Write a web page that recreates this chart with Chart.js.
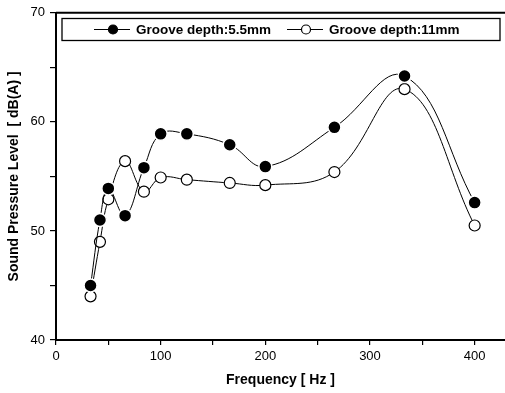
<!DOCTYPE html>
<html>
<head>
<meta charset="utf-8">
<script src="https://cdn.jsdelivr.net/npm/chart.js@4/dist/chart.umd.min.js"></script>
<style>
  html, body { margin: 0; padding: 0; background: #fff; }
  #wrap { position: relative; width: 505px; height: 393px; }
</style>
</head>
<body>
<div id="wrap"><canvas id="grafica" width="505" height="393"></canvas></div>
<script>
// frecuencias medidas (Hz)
const frecuencias = [33, 42, 50, 66, 84, 100, 125, 166, 200, 266, 333, 400];
// nivel de presion sonora, ranura 5.5mm
const nivel55 = [45.0, 51.0, 53.9, 51.4, 55.8, 58.9, 58.9, 57.9, 55.9, 59.5, 64.2, 52.6];
// nivel de presion sonora, ranura 11mm
const nivel11 = [44.0, 49.0, 52.9, 56.4, 53.6, 54.9, 54.7, 54.4, 54.2, 55.4, 63.0, 50.5];
const etiquetas = ["Groove depth:5.5mm", "Groove depth:11mm"];
const ticksX = [0, 100, 200, 300, 400];
const ticksY = [40, 50, 60, 70];

const puntos = (ys) => frecuencias.map((f, i) => ({ x: f, y: ys[i] }));

// leyenda con marco y linea superior del marco
const marco = {
    id: 'marco',
    afterDraw(chart) {
        const ctx = chart.ctx;
        const a = chart.chartArea;
        ctx.save();
        ctx.strokeStyle = '#000';
        ctx.lineWidth = 2;
        ctx.beginPath();
        ctx.moveTo(a.left, a.top);
        ctx.lineTo(505, a.top);
        ctx.stroke();

        // caja de la leyenda
        ctx.lineWidth = 1.3;
        ctx.strokeRect(62, 18.5, 438, 22);
        ctx.font = 'bold 13.5px "Liberation Sans", Arial, sans-serif';
        ctx.textBaseline = 'middle';
        ctx.fillStyle = '#000';
        const yy = 29.5;
        const items = [
            { x: 113, relleno: '#000', texto: etiquetas[0] },
            { x: 306, relleno: '#fff', texto: etiquetas[1] }
        ];
        items.forEach(it => {
            ctx.lineWidth = 1;
            ctx.beginPath();
            ctx.moveTo(it.x - 19, yy);
            ctx.lineTo(it.x + 17, yy);
            ctx.stroke();
            ctx.beginPath();
            ctx.arc(it.x, yy, 4.5, 0, Math.PI * 2);
            ctx.fillStyle = it.relleno;
            ctx.fill();
            ctx.lineWidth = 1.2;
            ctx.stroke();
            ctx.fillStyle = '#000';
            ctx.fillText(it.texto, it.x + 23, yy + 0.5);
        });
        ctx.restore();
    }
};

const fuente = { family: '"Liberation Sans", Arial, sans-serif', size: 13 };
const fuenteTitulo = { family: '"Liberation Sans", Arial, sans-serif', size: 14, weight: 'bold' };

new Chart(document.getElementById('grafica'), {
    type: 'line',
    data: {
        datasets: [
            {
                label: etiquetas[0],
                data: puntos(nivel55),
                borderColor: '#000',
                borderWidth: 1,
                backgroundColor: '#000',
                pointBackgroundColor: '#000',
                pointBorderColor: '#fff',
                pointBorderWidth: 1.5,
                pointRadius: 6.5,
                tension: 0.4
            },
            {
                label: etiquetas[1],
                data: puntos(nivel11),
                borderColor: '#000',
                borderWidth: 1,
                pointBackgroundColor: '#fff',
                pointBorderColor: '#000',
                pointBorderWidth: 1.2,
                pointRadius: 5.5,
                tension: 0.4
            }
        ]
    },
    options: {
        responsive: false,
        animation: false,
        layout: { autoPadding: false, padding: { top: 12, right: 0, left: 0, bottom: 0 } },
        plugins: { legend: { display: false }, tooltip: { enabled: false } },
        scales: {
            x: {
                type: 'linear',
                min: 0,
                max: 429,
                afterFit: (s) => { s.height = 53; s.paddingRight = 0; },
                ticks: {
                    stepSize: 50,
                    autoSkip: false,
                    includeBounds: false,
                    color: '#000',
                    font: fuente,
                    padding: 4,
                    maxRotation: 0,
                    callback: (v) => ticksX.includes(v) ? String(v) : ''
                },
                grid: {
                    drawOnChartArea: false,
                    tickLength: 5,
                    lineWidth: 1.2,
                    color: (c) => (c.tick && c.tick.value % 50 === 0) ? '#000' : 'rgba(0,0,0,0)'
                },
                border: { color: '#000', width: 2 },
                title: {
                    display: true,
                    text: 'Frequency [ Hz ]',
                    color: '#000',
                    font: fuenteTitulo,
                    padding: { top: 6 }
                }
            },
            y: {
                min: 40,
                max: 70,
                afterFit: (s) => { s.width = 56; },
                ticks: {
                    stepSize: 5,
                    color: '#000',
                    font: fuente,
                    padding: 5,
                    callback: (v) => ticksY.includes(v) ? String(v) : ''
                },
                grid: { drawOnChartArea: false, tickLength: 6, color: '#000', lineWidth: 1.2 },
                border: { color: '#000', width: 2 },
                title: {
                    display: true,
                    text: 'Sound Pressure Level  [ dB(A) ]',
                    color: '#000',
                    font: fuenteTitulo,
                    padding: { top: 6, bottom: 4 }
                }
            }
        }
    },
    plugins: [marco]
});
</script>
</body>
</html>
